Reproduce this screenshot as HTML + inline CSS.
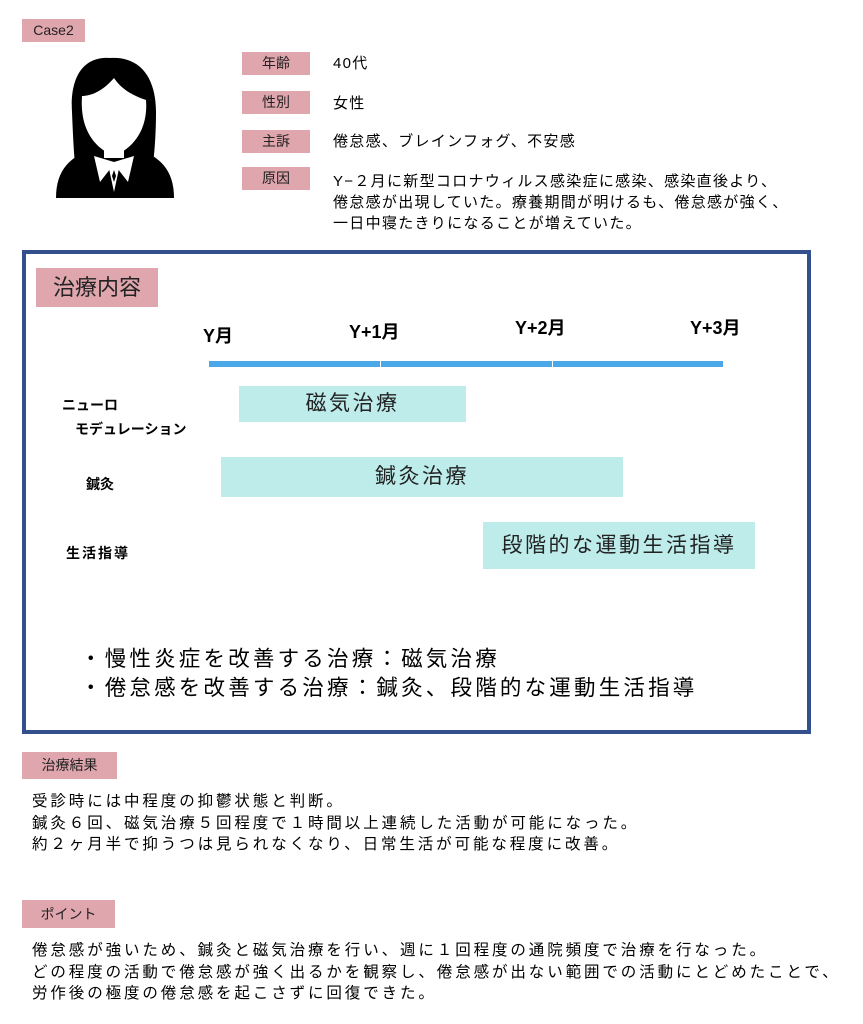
<!DOCTYPE html>
<html><head><meta charset="utf-8"><style>
body{margin:0;width:863px;height:1024px;background:#fff;position:relative;overflow:hidden;font-family:"Liberation Sans","Noto Sans CJK JP",sans-serif;color:#000}
.a{position:absolute;white-space:nowrap}
.tag{position:absolute;background:#e0a6ae;color:#222;font-size:14px;text-align:center}
.ht{font-size:15px;letter-spacing:1.3px;line-height:21px}
.bar{position:absolute;background:#beeceb;font-size:21px;text-align:center;color:#222;letter-spacing:2.5px}
.mo{font-size:18px;font-weight:bold}
.rl{font-size:14px;font-weight:bold}
.bt{font-size:15.5px;letter-spacing:2.9px;line-height:21.5px}
</style></head><body>
<div class="tag" style="left:22px;top:19px;width:63px;height:23px;line-height:23px">Case2</div>
<svg class="a" style="left:50px;top:52px" width="130" height="146" viewBox="0 0 130 146">
<path d="M60 6 C30 4 20 30 22 60 C23 85 24 105 26 122 L102 122 C104 105 106 85 106 60 C106 28 92 4 60 6 Z" fill="#000"/>
<path d="M6 146 C6 118 20 104 45 96 L85 96 C110 104 124 118 124 146 Z" fill="#000"/>
<path d="M64 26 C52 40 40 44 32 44 C30 72 40 94 64 104 C88 94 98 72 96 48 C84 44 72 38 64 26 Z" fill="#fff"/>
<rect x="54" y="92" width="20" height="14" fill="#fff"/>
<path d="M44 104 L64 110 L84 104 L78 130 L64 112 L50 130 Z" fill="#fff"/>
<path d="M58 112 L64 140 L70 112 Z" fill="#fff"/>
<path d="M64 118 L62 124 L64 130 L66 124 Z" fill="#000"/>
</svg>
<div class="tag" style="left:242px;top:52px;width:68px;height:23px;line-height:23px">年齢</div>
<div class="a ht" style="left:333px;top:53px">40代</div>
<div class="tag" style="left:242px;top:91px;width:68px;height:23px;line-height:23px">性別</div>
<div class="a ht" style="left:333px;top:93px">女性</div>
<div class="tag" style="left:242px;top:130px;width:68px;height:23px;line-height:23px">主訴</div>
<div class="a ht" style="left:333px;top:131px">倦怠感、ブレインフォグ、不安感</div>
<div class="tag" style="left:242px;top:167px;width:68px;height:23px;line-height:23px">原因</div>
<div class="a ht" style="left:333px;top:171px">Y−２月に新型コロナウィルス感染症に感染、感染直後より、<br>倦怠感が出現していた。療養期間が明けるも、倦怠感が強く、<br>一日中寝たきりになることが増えていた。</div>

<div class="a" style="left:22px;top:250px;width:781px;height:476px;border:4px solid #34508c"></div>
<div class="tag" style="left:36px;top:268px;width:122px;height:39px;line-height:39px;font-size:22px">治療内容</div>
<div class="a mo" style="left:203px;top:322px">Y月</div>
<div class="a mo" style="left:349px;top:318px">Y+1月</div>
<div class="a mo" style="left:515px;top:314px">Y+2月</div>
<div class="a mo" style="left:690px;top:314px">Y+3月</div>
<div class="a" style="left:209px;top:361px;width:171px;height:6px;background:#4aa8e8"></div>
<div class="a" style="left:381px;top:361px;width:171px;height:6px;background:#4aa8e8"></div>
<div class="a" style="left:553px;top:361px;width:170px;height:6px;background:#4aa8e8"></div>
<div class="a rl" style="left:62px;top:395px">ニューロ</div>
<div class="a rl" style="left:75px;top:419px">モデュレーション</div>
<div class="a rl" style="left:86px;top:474px">鍼灸</div>
<div class="a rl" style="left:66px;top:543px;letter-spacing:2px">生活指導</div>
<div class="bar" style="left:239px;top:386px;width:227px;height:36px;line-height:36px">磁気治療</div>
<div class="bar" style="left:221px;top:457px;width:402px;height:40px;line-height:40px">鍼灸治療</div>
<div class="bar" style="left:483px;top:522px;width:272px;height:47px;line-height:47px">段階的な運動生活指導</div>
<div class="a" style="left:80px;top:645px;font-size:21.5px;letter-spacing:3.2px;line-height:29px">・慢性炎症を改善する治療：磁気治療<br>・倦怠感を改善する治療：鍼灸、段階的な運動生活指導</div>

<div class="tag" style="left:22px;top:752px;width:95px;height:27px;line-height:27px">治療結果</div>
<div class="a bt" style="left:32px;top:791px">受診時には中程度の抑鬱状態と判断。<br>鍼灸６回、磁気治療５回程度で１時間以上連続した活動が可能になった。<br>約２ヶ月半で抑うつは見られなくなり、日常生活が可能な程度に改善。</div>
<div class="tag" style="left:22px;top:900px;width:93px;height:28px;line-height:28px">ポイント</div>
<div class="a bt" style="left:32px;top:940px">倦怠感が強いため、鍼灸と磁気治療を行い、週に１回程度の通院頻度で治療を行なった。<br>どの程度の活動で倦怠感が強く出るかを観察し、倦怠感が出ない範囲での活動にとどめたことで、<br>労作後の極度の倦怠感を起こさずに回復できた。</div>
</body></html>
